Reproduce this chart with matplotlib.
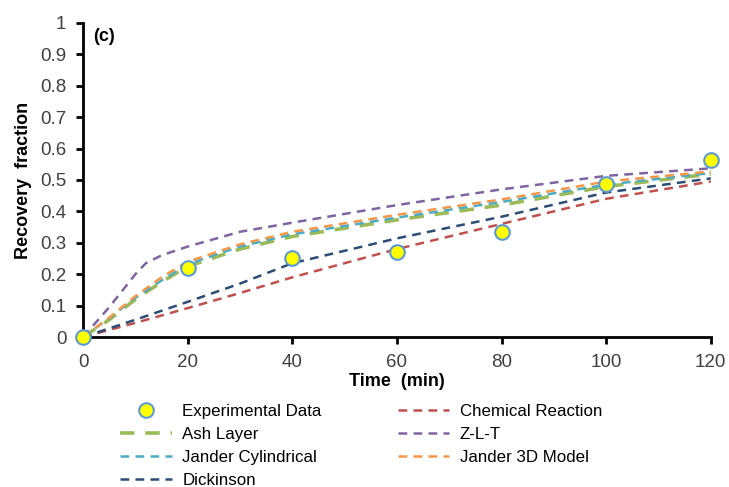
import numpy as np
import matplotlib
matplotlib.use("Agg")
import matplotlib.pyplot as plt

plt.rcParams.update({
    "font.family": ["Liberation Sans", "DejaVu Sans"],
    "font.size": 12,
})

# experimental data
t_exp = [0, 20, 40, 60, 80, 100, 120]
x_exp = [0, 0.22, 0.25, 0.27, 0.335, 0.486, 0.564]

# model curves
t_fast = [0, 5, 10, 15, 20, 30, 40, 60, 80, 100, 120]
ash = [0, 0.055, 0.12, 0.175, 0.225, 0.28, 0.32, 0.373, 0.42, 0.479, 0.519]
jander_cyl = [0, 0.06, 0.125, 0.18, 0.232, 0.288, 0.327, 0.38, 0.43, 0.485, 0.522]
jander_3d = [0, 0.062, 0.13, 0.19, 0.24, 0.295, 0.335, 0.389, 0.438, 0.495, 0.527]

t_zlt = [0, 5, 10, 12, 15, 20, 30, 40, 60, 80, 100, 120]
zlt = [0, 0.095, 0.2, 0.235, 0.26, 0.288, 0.335, 0.364, 0.42, 0.47, 0.513, 0.537]

t_slow = [0, 10, 20, 30, 40, 60, 80, 100, 120]
dickinson = [0, 0.055, 0.112, 0.17, 0.235, 0.314, 0.383, 0.46, 0.505]
chem = [0, 0.045, 0.092, 0.14, 0.19, 0.28, 0.36, 0.44, 0.495]

colors = {
    "chem": "#C0504D",
    "zlt": "#8064A2",
    "ash": "#9BBB59",
    "cyl": "#4BACC6",
    "j3d": "#F79646",
    "dick": "#2C4D75",
}

fig = plt.figure(figsize=(7.29, 4.87), dpi=100)
ax = fig.add_axes([0.114, 0.308, 0.861, 0.645])

dash = (0, (3.5, 2.5))
h_chem, = ax.plot(t_slow, chem, linestyle=dash, color=colors["chem"], lw=1.8, label="Chemical Reaction")
h_dick, = ax.plot(t_slow, dickinson, linestyle=dash, color=colors["dick"], lw=1.8, label="Dickinson")
h_zlt, = ax.plot(t_zlt, zlt, linestyle=dash, color=colors["zlt"], lw=1.8, label="Z-L-T")
h_ash, = ax.plot(t_fast, ash, linestyle=(0, (4, 3)), color=colors["ash"], lw=2.6, label="Ash Layer")
h_cyl, = ax.plot(t_fast, jander_cyl, linestyle=dash, color=colors["cyl"], lw=1.8, label="Jander Cylindrical")
h_j3d, = ax.plot(t_fast, jander_3d, linestyle=dash, color=colors["j3d"], lw=1.8, label="Jander 3D Model")
h_exp, = ax.plot(t_exp, x_exp, "o", ms=10.5, mfc="#FFFF00", mec="#5B9BD5", mew=1.5,
                 linestyle="none", label="Experimental Data", clip_on=False, zorder=5)

ax.set_xlim(0, 120)
ax.set_ylim(0, 1)
ax.set_xticks([0, 20, 40, 60, 80, 100, 120])
ax.set_yticks(np.arange(0, 1.01, 0.1))
ax.set_yticklabels(["0", "0.1", "0.2", "0.3", "0.4", "0.5", "0.6", "0.7", "0.8", "0.9", "1"])
for s in ["top", "right"]:
    ax.spines[s].set_visible(False)
for s in ["left", "bottom"]:
    ax.spines[s].set_linewidth(2)
ax.tick_params(axis="both", direction="out", length=5, width=2, colors="black",
               labelcolor="#404040", labelsize=13.5, pad=7)
ax.set_xlabel("Time  (min)", fontweight="bold", fontsize=13, labelpad=2)
ax.set_ylabel("Recovery  fraction", fontweight="bold", fontsize=13, labelpad=6)
ax.text(2, 0.985, "(c)", fontweight="bold", fontsize=13, va="top", ha="left")

handles = [h_exp, h_ash, h_cyl, h_dick, h_chem, h_zlt, h_j3d]
fig.legend(handles, [h.get_label() for h in handles], ncol=2, frameon=False,
           loc="upper left", bbox_to_anchor=(0.165, 0.171), bbox_transform=fig.transFigure,
           fontsize=12.2, handlelength=3.05, columnspacing=4.5, labelspacing=0.48,
           borderaxespad=0, borderpad=0, handletextpad=0.6)

fig.savefig("out.png", dpi=100)
